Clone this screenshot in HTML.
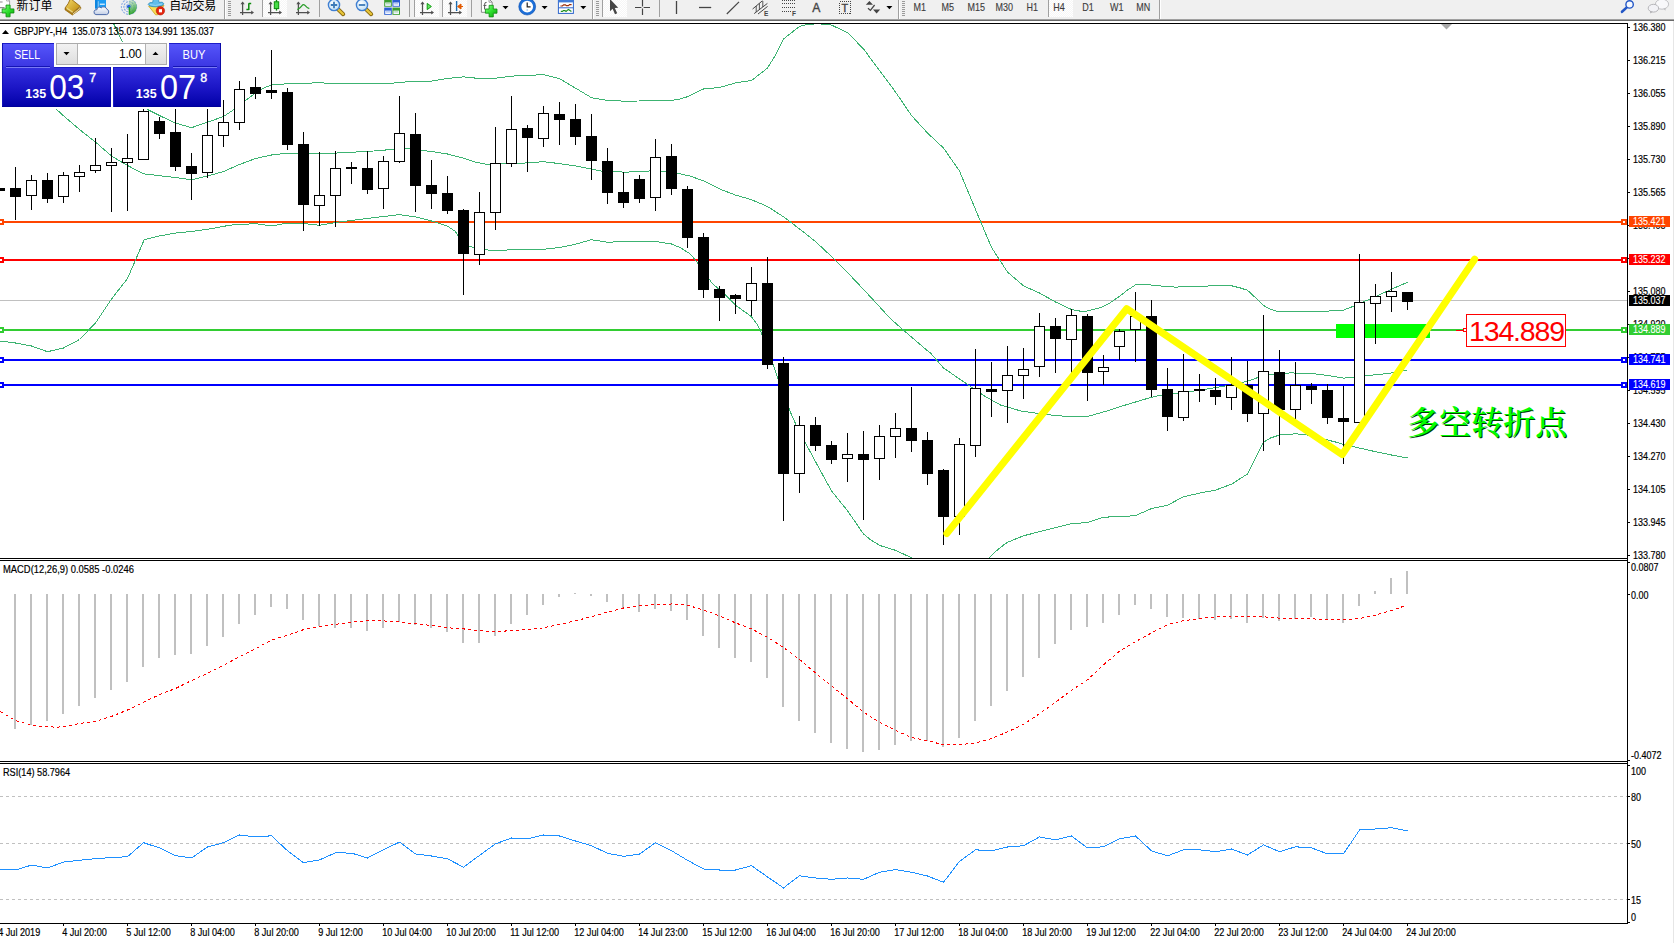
<!DOCTYPE html>
<html lang="zh"><head><meta charset="utf-8"><title>GBPJPY H4</title>
<style>
html,body{margin:0;padding:0;background:#fff}
body{width:1674px;height:943px;overflow:hidden;position:relative;font-family:"Liberation Sans","Noto Sans CJK SC",sans-serif}
svg{position:absolute;left:0;top:0;display:block}
text{font-family:"Liberation Sans","Noto Sans CJK SC",sans-serif;font-size:9.5px;fill:#000;letter-spacing:-0.25px}
.ax{font-size:9.5px}
.lb{fill:#fff}
.tb{font-size:9.5px;fill:#3c3c3c;letter-spacing:-0.2px}
.cn{font-size:12px;letter-spacing:0;fill:#000}
</style></head><body>
<svg width="1674" height="943" viewBox="0 0 1674 943">
<defs>
<linearGradient id="gTab" x1="0" y1="0" x2="0" y2="1"><stop offset="0" stop-color="#5656fb"/><stop offset="1" stop-color="#3b36e2"/></linearGradient>
<linearGradient id="gBox" x1="0" y1="0" x2="0" y2="1"><stop offset="0" stop-color="#3430e0"/><stop offset="0.55" stop-color="#1a14c4"/><stop offset="1" stop-color="#0000a6"/></linearGradient>
<linearGradient id="gBtn" x1="0" y1="0" x2="0" y2="1"><stop offset="0" stop-color="#f2f2f2"/><stop offset="1" stop-color="#dedede"/></linearGradient>
<radialGradient id="gLens" cx="0.4" cy="0.35" r="0.7"><stop offset="0" stop-color="#ffffff"/><stop offset="1" stop-color="#b9dcf5"/></radialGradient>
<linearGradient id="gGold" x1="0" y1="0" x2="1" y2="1"><stop offset="0" stop-color="#f7dc6a"/><stop offset="1" stop-color="#b9860b"/></linearGradient>
<linearGradient id="gGreen" x1="0" y1="0" x2="1" y2="1"><stop offset="0" stop-color="#8aff8a"/><stop offset="0.5" stop-color="#2fe02f"/><stop offset="1" stop-color="#0da50d"/></linearGradient>
<linearGradient id="gCloud" x1="0" y1="0" x2="0" y2="1"><stop offset="0" stop-color="#ffffff"/><stop offset="1" stop-color="#c3cfe6"/></linearGradient>
<linearGradient id="gSweep" x1="0" y1="0" x2="0.3" y2="1"><stop offset="0" stop-color="#7cc47c" stop-opacity="0.15"/><stop offset="0.6" stop-color="#5ab85a" stop-opacity="0.7"/><stop offset="1" stop-color="#2ea02e" stop-opacity="1"/></linearGradient>
<pattern id="sel" width="2" height="2" patternUnits="userSpaceOnUse"><rect width="2" height="2" fill="#f6f6f6"/><rect width="1" height="1" fill="#ffffff"/><rect x="1" y="1" width="1" height="1" fill="#ffffff"/></pattern>
<clipPath id="cMain"><rect x="0" y="24" width="1627" height="534"/></clipPath>
</defs>
<rect x="0" y="0" width="1674" height="943" fill="#ffffff"/>
<g shape-rendering="crispEdges">
<rect x="0" y="300" width="1627" height="1" fill="#c0c0c0"/>
<rect x="0" y="221" width="1627" height="2" fill="#ff4500"/>
<rect x="-2" y="219" width="6" height="6" fill="#ff4500"/>
<rect x="0" y="221" width="2" height="2" fill="#ffffff"/>
<rect x="1621" y="219" width="6" height="6" fill="#ff4500"/>
<rect x="1623" y="221" width="2" height="2" fill="#ffffff"/>
<rect x="0" y="259" width="1627" height="2" fill="#ff0000"/>
<rect x="-2" y="257" width="6" height="6" fill="#ff0000"/>
<rect x="0" y="259" width="2" height="2" fill="#ffffff"/>
<rect x="1621" y="257" width="6" height="6" fill="#ff0000"/>
<rect x="1623" y="259" width="2" height="2" fill="#ffffff"/>
<rect x="0" y="329" width="1627" height="2" fill="#32cd32"/>
<rect x="-2" y="327" width="6" height="6" fill="#32cd32"/>
<rect x="0" y="329" width="2" height="2" fill="#ffffff"/>
<rect x="1621" y="327" width="6" height="6" fill="#32cd32"/>
<rect x="1623" y="329" width="2" height="2" fill="#ffffff"/>
<rect x="0" y="359" width="1627" height="2" fill="#0000ff"/>
<rect x="-2" y="357" width="6" height="6" fill="#0000ff"/>
<rect x="0" y="359" width="2" height="2" fill="#ffffff"/>
<rect x="1621" y="357" width="6" height="6" fill="#0000ff"/>
<rect x="1623" y="359" width="2" height="2" fill="#ffffff"/>
<rect x="0" y="384" width="1627" height="2" fill="#0000ff"/>
<rect x="-2" y="382" width="6" height="6" fill="#0000ff"/>
<rect x="0" y="384" width="2" height="2" fill="#ffffff"/>
<rect x="1621" y="382" width="6" height="6" fill="#0000ff"/>
<rect x="1623" y="384" width="2" height="2" fill="#ffffff"/>
<rect x="1336" y="324" width="94" height="14" fill="#00ff00"/>
</g>
<g clip-path="url(#cMain)" fill="none" stroke="#3cb371" stroke-width="1" shape-rendering="crispEdges">
<polyline points="113.5,23.5 118.0,32.5 122.5,42.0"/>
<polyline points="147.5,109.5 159.5,115.5 170.5,120.8 175.5,123.0 191.5,127.7 207.5,122.2 223.5,116.5 232.5,110.5 239.5,105.0 250.5,96.8 258.5,90.5 265.5,87.2 271.5,85.0 290.5,83.5 320.5,82.8 340.5,84.0 367.5,83.7 390.5,83.3 407.5,81.8 431.5,81.1 447.5,78.5 463.5,76.9 479.5,78.5 495.5,78.2 511.5,76.1 527.5,75.4 543.5,74.7 559.5,78.7 575.5,88.1 591.5,97.7 607.5,100.5 623.5,101.1 639.5,101.0 655.5,100.7 671.5,100.5 680.5,98.9 687.5,96.7 703.5,89.0 719.5,87.5 735.5,82.9 751.5,80.5 767.5,68.1 775.5,55.0 783.5,39.0 799.5,26.4 808.5,24.1 820.5,23.9 831.5,25.1 847.5,32.6 863.5,48.9 879.5,70.5 895.5,92.0 911.5,115.5 927.5,133.0 943.5,148.0 959.5,171.0 975.5,209.5 991.5,247.5 1007.5,272.0 1023.5,285.8 1039.5,293.0 1055.5,302.0 1071.5,309.5 1080.5,311.2 1087.5,311.0 1100.5,307.7 1110.5,302.6 1119.5,296.3 1127.5,290.1 1135.5,284.9 1150.5,285.0 1160.5,286.0 1175.5,287.1 1190.5,286.5 1215.5,285.8 1232.5,286.0 1240.5,288.0 1247.5,290.3 1255.5,297.7 1263.5,305.5 1270.5,309.3 1279.5,311.9 1295.5,312.0 1320.5,311.5 1343.5,310.1 1351.5,307.0 1359.5,303.5 1370.5,298.8 1385.5,292.0 1395.5,287.5 1407.5,282.2"/>
<polyline points="56.5,109.4 63.5,115.8 79.5,129.5 95.5,142.1 111.5,156.0 127.5,165.5 143.5,173.8 159.5,175.7 175.5,177.5 191.5,179.8 207.5,176.0 223.5,171.5 239.5,164.5 255.5,158.5 271.5,155.0 287.5,153.2 303.5,153.1 319.5,153.9 335.5,153.1 351.5,152.2 367.5,151.5 383.5,150.2 399.5,148.7 410.5,149.0 431.5,151.5 447.5,154.0 463.5,158.2 475.5,162.2 487.5,164.4 500.5,164.0 511.5,163.5 527.5,162.9 543.5,161.7 559.5,163.6 575.5,165.9 591.5,169.1 600.5,171.0 623.5,172.1 639.5,171.8 655.5,170.5 671.5,172.5 680.5,173.9 690.5,176.2 703.5,180.9 719.5,188.9 735.5,195.1 751.5,199.7 767.5,206.5 783.5,216.8 799.5,228.9 815.5,241.5 831.5,256.5 847.5,272.5 863.5,289.4 879.5,306.7 890.5,318.7 900.5,327.5 915.5,340.5 925.5,349.1 930.5,353.0 943.5,367.9 959.5,379.0 970.5,386.5 985.5,396.7 1000.5,405.0 1020.5,410.9 1040.5,413.8 1055.5,415.5 1071.5,416.8 1087.5,416.5 1100.5,412.8 1110.5,409.9 1125.5,405.0 1150.5,397.5 1165.5,394.2 1180.5,392.8 1199.5,390.3 1215.5,387.5 1231.5,385.0 1247.5,381.3 1258.5,377.3 1270.5,374.5 1290.5,372.9 1311.5,373.5 1327.5,375.4 1343.5,378.1 1351.5,377.5 1370.5,375.3 1385.5,373.7 1395.5,372.4 1407.5,369.9"/>
<polyline points="-0.5,340.9 15.5,343.0 31.5,346.0 47.5,351.7 63.5,348.0 79.5,339.5 95.5,323.0 111.5,299.0 127.5,278.5 144.2,239.8 159.5,235.9 175.5,233.1 191.5,231.5 207.5,229.3 230.5,225.1 255.5,223.6 271.5,225.9 287.5,223.1 303.5,223.5 319.5,225.3 335.5,222.5 351.5,220.5 367.5,218.5 383.5,216.5 399.5,214.6 415.5,216.9 431.5,221.0 447.5,226.2 455.5,231.5 459.5,239.0 469.9,246.5 479.5,249.1 495.5,250.9 511.5,249.7 527.5,249.7 543.5,249.3 559.5,247.5 575.5,244.2 591.5,239.7 607.5,242.2 623.5,241.7 639.5,241.3 655.5,241.5 671.5,244.0 680.5,247.8 690.5,254.1 700.5,266.5 712.0,283.1 726.5,295.9 735.5,305.2 751.5,316.7 757.5,325.0 762.5,335.5 773.5,365.5 778.5,380.5 790.1,411.5 795.5,423.7 805.5,443.1 815.5,461.7 831.5,490.9 847.5,510.7 863.5,534.0 871.5,540.5 880.5,545.7 895.5,550.3 911.5,557.8 913.5,559.0"/>
<polyline points="988.0,559.0 991.5,555.5 995.5,551.5 1004.0,544.7 1007.5,542.3 1023.5,535.8 1039.5,531.7 1055.5,527.7 1071.5,523.7 1087.5,522.5 1103.5,517.1 1119.5,516.8 1135.5,515.6 1151.5,508.6 1167.5,505.2 1183.5,496.8 1199.5,493.1 1215.5,490.1 1231.5,484.2 1247.5,474.0 1255.5,458.2 1263.5,442.2 1270.5,438.0 1279.5,435.0 1295.5,433.8 1305.5,434.5 1320.5,438.2 1335.5,442.0 1343.5,444.5 1355.5,447.1 1375.5,451.7 1391.5,455.0 1407.5,458.0"/>
</g>
<g shape-rendering="crispEdges">
<rect x="-1" y="188" width="1" height="3" fill="#000"/>
<rect x="-6" y="188" width="11" height="3" fill="#000"/>
<rect x="15" y="167" width="1" height="53" fill="#000"/>
<rect x="10" y="188" width="11" height="9" fill="#000"/>
<rect x="31" y="175" width="1" height="35" fill="#000"/>
<rect x="26" y="180" width="11" height="16" fill="#000"/>
<rect x="27" y="181" width="9" height="14" fill="#fff"/>
<rect x="47" y="173" width="1" height="30" fill="#000"/>
<rect x="42" y="180" width="11" height="19" fill="#000"/>
<rect x="63" y="172" width="1" height="31" fill="#000"/>
<rect x="58" y="175" width="11" height="22" fill="#000"/>
<rect x="59" y="176" width="9" height="20" fill="#fff"/>
<rect x="79" y="165" width="1" height="27" fill="#000"/>
<rect x="74" y="172" width="11" height="5" fill="#000"/>
<rect x="75" y="173" width="9" height="3" fill="#fff"/>
<rect x="95" y="138" width="1" height="35" fill="#000"/>
<rect x="90" y="165" width="11" height="6" fill="#000"/>
<rect x="91" y="166" width="9" height="4" fill="#fff"/>
<rect x="111" y="148" width="1" height="64" fill="#000"/>
<rect x="106" y="162" width="11" height="4" fill="#000"/>
<rect x="107" y="163" width="9" height="2" fill="#fff"/>
<rect x="127" y="134" width="1" height="77" fill="#000"/>
<rect x="122" y="158" width="11" height="5" fill="#000"/>
<rect x="123" y="159" width="9" height="3" fill="#fff"/>
<rect x="143" y="109" width="1" height="51" fill="#000"/>
<rect x="138" y="111" width="11" height="49" fill="#000"/>
<rect x="139" y="112" width="9" height="47" fill="#fff"/>
<rect x="159" y="117" width="1" height="22" fill="#000"/>
<rect x="154" y="121" width="11" height="13" fill="#000"/>
<rect x="175" y="109" width="1" height="62" fill="#000"/>
<rect x="170" y="132" width="11" height="35" fill="#000"/>
<rect x="191" y="153" width="1" height="47" fill="#000"/>
<rect x="186" y="166" width="11" height="8" fill="#000"/>
<rect x="207" y="109" width="1" height="69" fill="#000"/>
<rect x="202" y="135" width="11" height="38" fill="#000"/>
<rect x="203" y="136" width="9" height="36" fill="#fff"/>
<rect x="223" y="100" width="1" height="47" fill="#000"/>
<rect x="218" y="122" width="11" height="14" fill="#000"/>
<rect x="219" y="123" width="9" height="12" fill="#fff"/>
<rect x="239" y="81" width="1" height="49" fill="#000"/>
<rect x="234" y="89" width="11" height="34" fill="#000"/>
<rect x="235" y="90" width="9" height="32" fill="#fff"/>
<rect x="255" y="77" width="1" height="22" fill="#000"/>
<rect x="250" y="87" width="11" height="7" fill="#000"/>
<rect x="271" y="50" width="1" height="49" fill="#000"/>
<rect x="266" y="90" width="11" height="3" fill="#000"/>
<rect x="287" y="88" width="1" height="62" fill="#000"/>
<rect x="282" y="92" width="11" height="53" fill="#000"/>
<rect x="303" y="132" width="1" height="99" fill="#000"/>
<rect x="298" y="144" width="11" height="61" fill="#000"/>
<rect x="319" y="152" width="1" height="74" fill="#000"/>
<rect x="314" y="195" width="11" height="11" fill="#000"/>
<rect x="315" y="196" width="9" height="9" fill="#fff"/>
<rect x="335" y="151" width="1" height="76" fill="#000"/>
<rect x="330" y="168" width="11" height="28" fill="#000"/>
<rect x="331" y="169" width="9" height="26" fill="#fff"/>
<rect x="351" y="162" width="1" height="22" fill="#000"/>
<rect x="346" y="167" width="11" height="2" fill="#000"/>
<rect x="367" y="151" width="1" height="43" fill="#000"/>
<rect x="362" y="168" width="11" height="22" fill="#000"/>
<rect x="383" y="156" width="1" height="53" fill="#000"/>
<rect x="378" y="161" width="11" height="28" fill="#000"/>
<rect x="379" y="162" width="9" height="26" fill="#fff"/>
<rect x="399" y="96" width="1" height="67" fill="#000"/>
<rect x="394" y="133" width="11" height="29" fill="#000"/>
<rect x="395" y="134" width="9" height="27" fill="#fff"/>
<rect x="415" y="113" width="1" height="99" fill="#000"/>
<rect x="410" y="134" width="11" height="52" fill="#000"/>
<rect x="431" y="160" width="1" height="49" fill="#000"/>
<rect x="426" y="185" width="11" height="9" fill="#000"/>
<rect x="447" y="176" width="1" height="38" fill="#000"/>
<rect x="442" y="193" width="11" height="18" fill="#000"/>
<rect x="463" y="209" width="1" height="86" fill="#000"/>
<rect x="458" y="210" width="11" height="44" fill="#000"/>
<rect x="479" y="192" width="1" height="73" fill="#000"/>
<rect x="474" y="212" width="11" height="43" fill="#000"/>
<rect x="475" y="213" width="9" height="41" fill="#fff"/>
<rect x="495" y="127" width="1" height="103" fill="#000"/>
<rect x="490" y="163" width="11" height="50" fill="#000"/>
<rect x="491" y="164" width="9" height="48" fill="#fff"/>
<rect x="511" y="96" width="1" height="71" fill="#000"/>
<rect x="506" y="129" width="11" height="35" fill="#000"/>
<rect x="507" y="130" width="9" height="33" fill="#fff"/>
<rect x="527" y="125" width="1" height="47" fill="#000"/>
<rect x="522" y="128" width="11" height="10" fill="#000"/>
<rect x="543" y="106" width="1" height="41" fill="#000"/>
<rect x="538" y="113" width="11" height="26" fill="#000"/>
<rect x="539" y="114" width="9" height="24" fill="#fff"/>
<rect x="559" y="102" width="1" height="43" fill="#000"/>
<rect x="554" y="114" width="11" height="6" fill="#000"/>
<rect x="575" y="104" width="1" height="41" fill="#000"/>
<rect x="570" y="119" width="11" height="18" fill="#000"/>
<rect x="591" y="114" width="1" height="66" fill="#000"/>
<rect x="586" y="136" width="11" height="25" fill="#000"/>
<rect x="607" y="148" width="1" height="56" fill="#000"/>
<rect x="602" y="161" width="11" height="32" fill="#000"/>
<rect x="623" y="172" width="1" height="36" fill="#000"/>
<rect x="618" y="192" width="11" height="11" fill="#000"/>
<rect x="639" y="175" width="1" height="28" fill="#000"/>
<rect x="634" y="179" width="11" height="20" fill="#000"/>
<rect x="655" y="139" width="1" height="72" fill="#000"/>
<rect x="650" y="157" width="11" height="41" fill="#000"/>
<rect x="651" y="158" width="9" height="39" fill="#fff"/>
<rect x="671" y="144" width="1" height="51" fill="#000"/>
<rect x="666" y="156" width="11" height="33" fill="#000"/>
<rect x="687" y="186" width="1" height="62" fill="#000"/>
<rect x="682" y="189" width="11" height="49" fill="#000"/>
<rect x="703" y="233" width="1" height="65" fill="#000"/>
<rect x="698" y="237" width="11" height="53" fill="#000"/>
<rect x="719" y="286" width="1" height="35" fill="#000"/>
<rect x="714" y="289" width="11" height="9" fill="#000"/>
<rect x="735" y="294" width="1" height="20" fill="#000"/>
<rect x="730" y="295" width="11" height="4" fill="#000"/>
<rect x="751" y="267" width="1" height="49" fill="#000"/>
<rect x="746" y="283" width="11" height="18" fill="#000"/>
<rect x="747" y="284" width="9" height="16" fill="#fff"/>
<rect x="767" y="257" width="1" height="112" fill="#000"/>
<rect x="762" y="283" width="11" height="82" fill="#000"/>
<rect x="783" y="357" width="1" height="164" fill="#000"/>
<rect x="778" y="363" width="11" height="111" fill="#000"/>
<rect x="799" y="416" width="1" height="77" fill="#000"/>
<rect x="794" y="425" width="11" height="49" fill="#000"/>
<rect x="795" y="426" width="9" height="47" fill="#fff"/>
<rect x="815" y="417" width="1" height="34" fill="#000"/>
<rect x="810" y="425" width="11" height="21" fill="#000"/>
<rect x="831" y="441" width="1" height="23" fill="#000"/>
<rect x="826" y="445" width="11" height="15" fill="#000"/>
<rect x="847" y="433" width="1" height="49" fill="#000"/>
<rect x="842" y="454" width="11" height="5" fill="#000"/>
<rect x="843" y="455" width="9" height="3" fill="#fff"/>
<rect x="863" y="431" width="1" height="89" fill="#000"/>
<rect x="858" y="454" width="11" height="6" fill="#000"/>
<rect x="879" y="425" width="1" height="55" fill="#000"/>
<rect x="874" y="436" width="11" height="23" fill="#000"/>
<rect x="875" y="437" width="9" height="21" fill="#fff"/>
<rect x="895" y="413" width="1" height="45" fill="#000"/>
<rect x="890" y="428" width="11" height="9" fill="#000"/>
<rect x="891" y="429" width="9" height="7" fill="#fff"/>
<rect x="911" y="387" width="1" height="65" fill="#000"/>
<rect x="906" y="428" width="11" height="13" fill="#000"/>
<rect x="927" y="432" width="1" height="53" fill="#000"/>
<rect x="922" y="440" width="11" height="34" fill="#000"/>
<rect x="943" y="469" width="1" height="76" fill="#000"/>
<rect x="938" y="470" width="11" height="47" fill="#000"/>
<rect x="959" y="438" width="1" height="97" fill="#000"/>
<rect x="954" y="444" width="11" height="73" fill="#000"/>
<rect x="955" y="445" width="9" height="71" fill="#fff"/>
<rect x="975" y="349" width="1" height="108" fill="#000"/>
<rect x="970" y="388" width="11" height="58" fill="#000"/>
<rect x="971" y="389" width="9" height="56" fill="#fff"/>
<rect x="991" y="362" width="1" height="55" fill="#000"/>
<rect x="986" y="389" width="11" height="3" fill="#000"/>
<rect x="1007" y="346" width="1" height="77" fill="#000"/>
<rect x="1002" y="375" width="11" height="16" fill="#000"/>
<rect x="1003" y="376" width="9" height="14" fill="#fff"/>
<rect x="1023" y="348" width="1" height="51" fill="#000"/>
<rect x="1018" y="369" width="11" height="7" fill="#000"/>
<rect x="1019" y="370" width="9" height="5" fill="#fff"/>
<rect x="1039" y="313" width="1" height="64" fill="#000"/>
<rect x="1034" y="326" width="11" height="41" fill="#000"/>
<rect x="1035" y="327" width="9" height="39" fill="#fff"/>
<rect x="1055" y="318" width="1" height="55" fill="#000"/>
<rect x="1050" y="326" width="11" height="13" fill="#000"/>
<rect x="1071" y="309" width="1" height="64" fill="#000"/>
<rect x="1066" y="315" width="11" height="25" fill="#000"/>
<rect x="1067" y="316" width="9" height="23" fill="#fff"/>
<rect x="1087" y="314" width="1" height="87" fill="#000"/>
<rect x="1082" y="316" width="11" height="57" fill="#000"/>
<rect x="1103" y="355" width="1" height="30" fill="#000"/>
<rect x="1098" y="367" width="11" height="5" fill="#000"/>
<rect x="1099" y="368" width="9" height="3" fill="#fff"/>
<rect x="1119" y="329" width="1" height="31" fill="#000"/>
<rect x="1114" y="331" width="11" height="16" fill="#000"/>
<rect x="1115" y="332" width="9" height="14" fill="#fff"/>
<rect x="1135" y="292" width="1" height="70" fill="#000"/>
<rect x="1130" y="316" width="11" height="14" fill="#000"/>
<rect x="1131" y="317" width="9" height="12" fill="#fff"/>
<rect x="1151" y="300" width="1" height="97" fill="#000"/>
<rect x="1146" y="316" width="11" height="74" fill="#000"/>
<rect x="1167" y="368" width="1" height="63" fill="#000"/>
<rect x="1162" y="389" width="11" height="28" fill="#000"/>
<rect x="1183" y="354" width="1" height="67" fill="#000"/>
<rect x="1178" y="391" width="11" height="27" fill="#000"/>
<rect x="1179" y="392" width="9" height="25" fill="#fff"/>
<rect x="1199" y="374" width="1" height="28" fill="#000"/>
<rect x="1194" y="389" width="11" height="2" fill="#000"/>
<rect x="1215" y="378" width="1" height="27" fill="#000"/>
<rect x="1210" y="390" width="11" height="7" fill="#000"/>
<rect x="1231" y="357" width="1" height="53" fill="#000"/>
<rect x="1226" y="385" width="11" height="13" fill="#000"/>
<rect x="1227" y="386" width="9" height="11" fill="#fff"/>
<rect x="1247" y="361" width="1" height="61" fill="#000"/>
<rect x="1242" y="385" width="11" height="29" fill="#000"/>
<rect x="1263" y="315" width="1" height="136" fill="#000"/>
<rect x="1258" y="371" width="11" height="43" fill="#000"/>
<rect x="1259" y="372" width="9" height="41" fill="#fff"/>
<rect x="1279" y="350" width="1" height="95" fill="#000"/>
<rect x="1274" y="372" width="11" height="38" fill="#000"/>
<rect x="1295" y="362" width="1" height="58" fill="#000"/>
<rect x="1290" y="385" width="11" height="25" fill="#000"/>
<rect x="1291" y="386" width="9" height="23" fill="#fff"/>
<rect x="1311" y="383" width="1" height="21" fill="#000"/>
<rect x="1306" y="386" width="11" height="4" fill="#000"/>
<rect x="1327" y="384" width="1" height="40" fill="#000"/>
<rect x="1322" y="390" width="11" height="28" fill="#000"/>
<rect x="1343" y="386" width="1" height="78" fill="#000"/>
<rect x="1338" y="418" width="11" height="4" fill="#000"/>
<rect x="1359" y="254" width="1" height="169" fill="#000"/>
<rect x="1354" y="302" width="11" height="121" fill="#000"/>
<rect x="1355" y="303" width="9" height="119" fill="#fff"/>
<rect x="1375" y="284" width="1" height="60" fill="#000"/>
<rect x="1370" y="296" width="11" height="8" fill="#000"/>
<rect x="1371" y="297" width="9" height="6" fill="#fff"/>
<rect x="1391" y="272" width="1" height="40" fill="#000"/>
<rect x="1386" y="291" width="11" height="6" fill="#000"/>
<rect x="1387" y="292" width="9" height="4" fill="#fff"/>
<rect x="1407" y="292" width="1" height="18" fill="#000"/>
<rect x="1402" y="292" width="11" height="10" fill="#000"/>
</g>
<polyline points="946.9,533.4 1126.7,308.7 1342.2,454.6 1474.6,259.3" fill="none" stroke="#ffff00" stroke-width="7.1" stroke-linecap="round" stroke-linejoin="round"/>
<path d="M1441,24 L1452,24 L1446.5,29.5 Z" fill="#a9a9a9"/>
<g shape-rendering="crispEdges">
<rect x="1456" y="330" width="8" height="1" fill="#ff0000"/>
<rect x="1463" y="328" width="4" height="4" fill="#ff0000"/>
<rect x="1464" y="329" width="2" height="2" fill="#ffffff"/>
<rect x="1466.5" y="314.5" width="99" height="32" fill="#ffffff" stroke="#ff0000" stroke-width="1"/>
</g>
<text x="1469" y="341.3" style="font-size:28.5px;fill:#ff0000;letter-spacing:-1.15px">134.889</text>
<text x="1408.2" y="435.3" style="font-family:'Liberation Serif','Noto Serif CJK SC',serif;font-weight:600;font-size:32px;letter-spacing:0;fill:#003c00">多空转折点</text>
<text x="1407.2" y="434.3" style="font-family:'Liberation Serif','Noto Serif CJK SC',serif;font-weight:600;font-size:32px;letter-spacing:0;fill:#00ff00">多空转折点</text>
<path d="M2,34 L9,34 L5.5,30 Z" fill="#000"/>
<text transform="translate(14 34.8) scale(0.928 1)" style="font-size:10px;fill:#000;letter-spacing:0;stroke:#000;stroke-width:0.18px">GBPJPY-,H4&#160;&#160;135.073 135.073 134.991 135.037</text>
<g shape-rendering="crispEdges">
<rect x="54" y="43" width="115" height="24" fill="#ffffff"/>
<rect x="2" y="43" width="52" height="24" fill="url(#gTab)"/>
<rect x="169" y="43" width="52" height="24" fill="url(#gTab)"/>
<rect x="2" y="67" width="109" height="40" fill="url(#gBox)"/>
<rect x="113" y="67" width="108" height="40" fill="url(#gBox)"/>
<rect x="2" y="43" width="52" height="1" fill="#1c1cc8"/>
<rect x="2" y="43" width="1" height="64" fill="#1212b8"/>
<rect x="169" y="43" width="52" height="1" fill="#1c1cc8"/>
<rect x="220" y="43" width="1" height="64" fill="#0a0aa8"/>
<rect x="54" y="67" width="57" height="1" fill="#1a1ac4"/>
<rect x="113" y="67" width="56" height="1" fill="#1a1ac4"/>
<rect x="2" y="106" width="109" height="1" fill="#00009a"/>
<rect x="113" y="106" width="108" height="1" fill="#00009a"/>
<rect x="110" y="67" width="1" height="40" fill="#0a0aa8"/>
<rect x="113" y="67" width="1" height="40" fill="#1a1ac4"/>
<rect x="6" y="66" width="44" height="1" fill="#1414b4"/>
<rect x="6" y="67" width="44" height="1" fill="#7a7af4"/>
<rect x="173" y="66" width="44" height="1" fill="#1414b4"/>
<rect x="173" y="67" width="44" height="1" fill="#7a7af4"/>
<rect x="56" y="43" width="111" height="22" fill="#ababab"/>
<rect x="57" y="44" width="109" height="20" fill="#ffffff"/>
<rect x="57" y="44" width="20" height="20" fill="url(#gBtn)"/>
<rect x="146" y="44" width="20" height="20" fill="url(#gBtn)"/>
<rect x="77" y="44" width="1" height="20" fill="#b4b4b4"/>
<rect x="145" y="44" width="1" height="20" fill="#b4b4b4"/>
</g>
<path d="M63.5,52 L69.5,52 L66.5,55.3 Z" fill="#000"/>
<path d="M152.5,55 L158.5,55 L155.5,51.7 Z" fill="#000"/>
<text x="141.5" y="57.6" text-anchor="end" style="font-size:12px;letter-spacing:-0.2px">1.00</text>
<text x="14.3" y="58.8" textLength="25.8" lengthAdjust="spacingAndGlyphs" class="lb" style="font-size:12.5px;letter-spacing:0">SELL</text>
<text x="182.5" y="58.8" textLength="23" lengthAdjust="spacingAndGlyphs" class="lb" style="font-size:12.5px;letter-spacing:0">BUY</text>
<text x="25.3" y="98" textLength="20.8" lengthAdjust="spacingAndGlyphs" class="lb" style="font-size:12px;font-weight:700;letter-spacing:0">135</text>
<text x="49.2" y="98.6" textLength="35.2" lengthAdjust="spacingAndGlyphs" class="lb" style="font-size:34.5px;letter-spacing:0">03</text>
<text x="89.2" y="82" class="lb" style="font-size:12.5px;letter-spacing:0;stroke:#fff;stroke-width:0.4px">7</text>
<text x="135.8" y="98" textLength="20.8" lengthAdjust="spacingAndGlyphs" class="lb" style="font-size:12px;font-weight:700;letter-spacing:0">135</text>
<text x="160" y="98.6" textLength="36" lengthAdjust="spacingAndGlyphs" class="lb" style="font-size:34.5px;letter-spacing:0">07</text>
<text x="200.2" y="82" class="lb" style="font-size:12.5px;letter-spacing:0;stroke:#fff;stroke-width:0.4px">8</text>
<g shape-rendering="crispEdges">
<rect x="14" y="594" width="2" height="135" fill="#c0c0c0"/>
<rect x="30" y="594" width="2" height="131" fill="#c0c0c0"/>
<rect x="46" y="594" width="2" height="127" fill="#c0c0c0"/>
<rect x="62" y="594" width="2" height="120" fill="#c0c0c0"/>
<rect x="78" y="594" width="2" height="112" fill="#c0c0c0"/>
<rect x="94" y="594" width="2" height="104" fill="#c0c0c0"/>
<rect x="110" y="594" width="2" height="96" fill="#c0c0c0"/>
<rect x="126" y="594" width="2" height="88" fill="#c0c0c0"/>
<rect x="142" y="594" width="2" height="73" fill="#c0c0c0"/>
<rect x="158" y="594" width="2" height="64" fill="#c0c0c0"/>
<rect x="174" y="594" width="2" height="61" fill="#c0c0c0"/>
<rect x="190" y="594" width="2" height="60" fill="#c0c0c0"/>
<rect x="206" y="594" width="2" height="52" fill="#c0c0c0"/>
<rect x="222" y="594" width="2" height="43" fill="#c0c0c0"/>
<rect x="238" y="594" width="2" height="30" fill="#c0c0c0"/>
<rect x="254" y="594" width="2" height="21" fill="#c0c0c0"/>
<rect x="270" y="594" width="2" height="13" fill="#c0c0c0"/>
<rect x="286" y="594" width="2" height="15" fill="#c0c0c0"/>
<rect x="302" y="594" width="2" height="26" fill="#c0c0c0"/>
<rect x="318" y="594" width="2" height="32" fill="#c0c0c0"/>
<rect x="334" y="594" width="2" height="34" fill="#c0c0c0"/>
<rect x="350" y="594" width="2" height="34" fill="#c0c0c0"/>
<rect x="366" y="594" width="2" height="37" fill="#c0c0c0"/>
<rect x="382" y="594" width="2" height="34" fill="#c0c0c0"/>
<rect x="398" y="594" width="2" height="28" fill="#c0c0c0"/>
<rect x="414" y="594" width="2" height="31" fill="#c0c0c0"/>
<rect x="430" y="594" width="2" height="34" fill="#c0c0c0"/>
<rect x="446" y="594" width="2" height="38" fill="#c0c0c0"/>
<rect x="462" y="594" width="2" height="49" fill="#c0c0c0"/>
<rect x="478" y="594" width="2" height="49" fill="#c0c0c0"/>
<rect x="494" y="594" width="2" height="42" fill="#c0c0c0"/>
<rect x="510" y="594" width="2" height="30" fill="#c0c0c0"/>
<rect x="526" y="594" width="2" height="21" fill="#c0c0c0"/>
<rect x="542" y="594" width="2" height="11" fill="#c0c0c0"/>
<rect x="558" y="594" width="2" height="3" fill="#c0c0c0"/>
<rect x="574" y="593" width="2" height="1" fill="#c0c0c0"/>
<rect x="590" y="594" width="2" height="2" fill="#c0c0c0"/>
<rect x="606" y="594" width="2" height="8" fill="#c0c0c0"/>
<rect x="622" y="594" width="2" height="14" fill="#c0c0c0"/>
<rect x="638" y="594" width="2" height="18" fill="#c0c0c0"/>
<rect x="654" y="594" width="2" height="15" fill="#c0c0c0"/>
<rect x="670" y="594" width="2" height="17" fill="#c0c0c0"/>
<rect x="686" y="594" width="2" height="26" fill="#c0c0c0"/>
<rect x="702" y="594" width="2" height="42" fill="#c0c0c0"/>
<rect x="718" y="594" width="2" height="54" fill="#c0c0c0"/>
<rect x="734" y="594" width="2" height="64" fill="#c0c0c0"/>
<rect x="750" y="594" width="2" height="68" fill="#c0c0c0"/>
<rect x="766" y="594" width="2" height="84" fill="#c0c0c0"/>
<rect x="782" y="594" width="2" height="113" fill="#c0c0c0"/>
<rect x="798" y="594" width="2" height="127" fill="#c0c0c0"/>
<rect x="814" y="594" width="2" height="139" fill="#c0c0c0"/>
<rect x="830" y="594" width="2" height="149" fill="#c0c0c0"/>
<rect x="846" y="594" width="2" height="155" fill="#c0c0c0"/>
<rect x="862" y="594" width="2" height="158" fill="#c0c0c0"/>
<rect x="878" y="594" width="2" height="156" fill="#c0c0c0"/>
<rect x="894" y="594" width="2" height="151" fill="#c0c0c0"/>
<rect x="910" y="594" width="2" height="147" fill="#c0c0c0"/>
<rect x="926" y="594" width="2" height="147" fill="#c0c0c0"/>
<rect x="942" y="594" width="2" height="153" fill="#c0c0c0"/>
<rect x="958" y="594" width="2" height="144" fill="#c0c0c0"/>
<rect x="974" y="594" width="2" height="127" fill="#c0c0c0"/>
<rect x="990" y="594" width="2" height="112" fill="#c0c0c0"/>
<rect x="1006" y="594" width="2" height="97" fill="#c0c0c0"/>
<rect x="1022" y="594" width="2" height="83" fill="#c0c0c0"/>
<rect x="1038" y="594" width="2" height="64" fill="#c0c0c0"/>
<rect x="1054" y="594" width="2" height="50" fill="#c0c0c0"/>
<rect x="1070" y="594" width="2" height="36" fill="#c0c0c0"/>
<rect x="1086" y="594" width="2" height="33" fill="#c0c0c0"/>
<rect x="1102" y="594" width="2" height="29" fill="#c0c0c0"/>
<rect x="1118" y="594" width="2" height="21" fill="#c0c0c0"/>
<rect x="1134" y="594" width="2" height="11" fill="#c0c0c0"/>
<rect x="1150" y="594" width="2" height="15" fill="#c0c0c0"/>
<rect x="1166" y="594" width="2" height="23" fill="#c0c0c0"/>
<rect x="1182" y="594" width="2" height="24" fill="#c0c0c0"/>
<rect x="1198" y="594" width="2" height="25" fill="#c0c0c0"/>
<rect x="1214" y="594" width="2" height="26" fill="#c0c0c0"/>
<rect x="1230" y="594" width="2" height="25" fill="#c0c0c0"/>
<rect x="1246" y="594" width="2" height="29" fill="#c0c0c0"/>
<rect x="1262" y="594" width="2" height="24" fill="#c0c0c0"/>
<rect x="1278" y="594" width="2" height="27" fill="#c0c0c0"/>
<rect x="1294" y="594" width="2" height="25" fill="#c0c0c0"/>
<rect x="1310" y="594" width="2" height="23" fill="#c0c0c0"/>
<rect x="1326" y="594" width="2" height="26" fill="#c0c0c0"/>
<rect x="1342" y="594" width="2" height="29" fill="#c0c0c0"/>
<rect x="1358" y="594" width="2" height="12" fill="#c0c0c0"/>
<rect x="1374" y="591" width="2" height="3" fill="#c0c0c0"/>
<rect x="1390" y="578" width="2" height="16" fill="#c0c0c0"/>
<rect x="1406" y="571" width="2" height="23" fill="#c0c0c0"/>
</g>
<polyline points="0.5,711.5 15.5,720.7 31.5,725.0 40.5,726.2 55.5,727.2 63.5,726.8 79.5,723.5 95.5,721.4 111.5,716.4 127.5,710.0 143.5,702.4 159.5,694.5 175.5,688.5 191.5,680.5 207.5,673.4 223.5,665.2 239.5,656.8 255.5,648.7 271.5,640.1 287.5,635.1 303.5,629.7 319.5,626.7 335.5,624.4 351.5,622.1 367.5,620.9 383.5,620.9 399.5,622.0 415.5,623.9 431.5,625.4 447.5,627.8 463.5,628.9 479.5,630.6 495.5,631.7 511.5,630.6 527.5,629.7 543.5,627.8 559.5,624.6 575.5,620.7 591.5,616.8 607.5,612.1 623.5,608.0 639.5,605.9 655.5,604.2 671.5,604.0 687.5,605.2 703.5,610.0 719.5,615.8 735.5,622.9 751.5,628.9 767.5,637.3 783.5,647.6 799.5,659.4 815.5,673.0 831.5,685.9 847.5,698.8 863.5,712.1 879.5,722.2 895.5,730.4 911.5,737.5 927.5,740.7 943.5,744.8 959.5,744.8 975.5,742.9 991.5,738.6 1007.5,731.9 1023.5,724.4 1039.5,713.6 1055.5,702.4 1071.5,690.2 1087.5,679.9 1103.5,664.8 1119.5,651.3 1135.5,641.6 1151.5,633.0 1167.5,624.6 1183.5,620.7 1199.5,618.6 1215.5,616.8 1231.5,616.0 1247.5,616.0 1263.5,616.8 1279.5,618.1 1295.5,618.8 1311.5,618.8 1327.5,619.8 1343.5,619.8 1359.5,618.5 1375.5,615.1 1391.5,610.5 1406.5,605.3" fill="none" stroke="#ff0000" stroke-width="1" stroke-dasharray="3 3" shape-rendering="crispEdges"/>
<text transform="translate(3 573.3) scale(0.94 1)" style="font-size:10px;fill:#000;letter-spacing:0;stroke:#000;stroke-width:0.18px">MACD(12,26,9) 0.0585 -0.0246</text>
<g shape-rendering="crispEdges">
<line x1="0" y1="796.5" x2="1627" y2="796.5" stroke="#c0c0c0" stroke-width="1" stroke-dasharray="3 3"/>
<line x1="0" y1="843.5" x2="1627" y2="843.5" stroke="#c0c0c0" stroke-width="1" stroke-dasharray="3 3"/>
<line x1="0" y1="899.5" x2="1627" y2="899.5" stroke="#c0c0c0" stroke-width="1" stroke-dasharray="3 3"/>
</g>
<polyline points="-0.5,869.0 15.5,870.0 31.5,865.1 47.5,867.9 63.5,862.1 79.5,860.3 95.5,858.6 111.5,857.6 127.5,856.7 143.5,842.7 159.5,847.9 175.5,855.6 191.5,858.0 207.5,847.0 223.5,842.7 239.5,835.0 255.5,836.9 271.5,835.8 287.5,850.7 303.5,862.7 319.5,859.9 335.5,852.8 351.5,853.1 367.5,858.0 383.5,849.6 399.5,842.1 415.5,853.9 431.5,856.0 447.5,858.8 463.5,867.2 479.5,855.4 495.5,843.8 511.5,838.0 527.5,838.8 543.5,835.0 559.5,836.0 575.5,841.0 591.5,845.7 607.5,853.3 623.5,856.3 639.5,854.1 655.5,842.7 671.5,850.7 687.5,860.3 703.5,869.0 719.5,870.0 735.5,870.0 751.5,865.7 767.5,876.9 783.5,887.9 799.5,875.8 815.5,878.0 831.5,879.3 847.5,878.0 863.5,879.3 879.5,872.2 895.5,869.6 911.5,872.2 927.5,876.0 943.5,882.3 959.5,861.4 975.5,849.8 991.5,850.9 1007.5,847.0 1023.5,845.7 1039.5,836.9 1055.5,839.9 1071.5,836.0 1087.5,847.9 1103.5,846.8 1119.5,838.8 1135.5,836.0 1151.5,850.9 1167.5,855.8 1183.5,849.8 1199.5,849.8 1215.5,851.7 1231.5,849.0 1247.5,855.0 1263.5,844.9 1279.5,851.7 1295.5,846.8 1311.5,847.9 1327.5,853.9 1343.5,853.9 1359.5,830.0 1375.5,829.0 1391.5,827.7 1407.5,830.9" fill="none" stroke="#1e90ff" stroke-width="1" shape-rendering="crispEdges"/>
<text transform="translate(3 776.2) scale(0.916 1)" style="font-size:10px;fill:#000;letter-spacing:0;stroke:#000;stroke-width:0.18px">RSI(14) 58.7964</text>
<g shape-rendering="crispEdges">
<rect x="1628" y="21" width="45" height="922" fill="#ffffff"/>
<rect x="0" y="23" width="1628" height="1" fill="#000"/>
<rect x="0" y="558" width="1628" height="1" fill="#000"/>
<rect x="0" y="559" width="1674" height="1" fill="#fff"/>
<rect x="0" y="560" width="1628" height="1" fill="#000"/>
<rect x="0" y="761" width="1628" height="1" fill="#000"/>
<rect x="0" y="762" width="1674" height="1" fill="#fff"/>
<rect x="0" y="763" width="1628" height="1" fill="#000"/>
<rect x="0" y="923" width="1628" height="1" fill="#000"/>
<rect x="1627" y="23" width="1" height="901" fill="#000"/>
<rect x="0" y="924" width="1674" height="19" fill="#ffffff"/>
<rect x="1673" y="21" width="1" height="922" fill="#e6e6e6"/>
<rect x="1628" y="27" width="2" height="1" fill="#000"/>
<rect x="1628" y="60" width="2" height="1" fill="#000"/>
<rect x="1628" y="93" width="2" height="1" fill="#000"/>
<rect x="1628" y="126" width="2" height="1" fill="#000"/>
<rect x="1628" y="159" width="2" height="1" fill="#000"/>
<rect x="1628" y="192" width="2" height="1" fill="#000"/>
<rect x="1628" y="225" width="2" height="1" fill="#000"/>
<rect x="1628" y="258" width="2" height="1" fill="#000"/>
<rect x="1628" y="291" width="2" height="1" fill="#000"/>
<rect x="1628" y="324" width="2" height="1" fill="#000"/>
<rect x="1628" y="357" width="2" height="1" fill="#000"/>
<rect x="1628" y="390" width="2" height="1" fill="#000"/>
<rect x="1628" y="423" width="2" height="1" fill="#000"/>
<rect x="1628" y="456" width="2" height="1" fill="#000"/>
<rect x="1628" y="489" width="2" height="1" fill="#000"/>
<rect x="1628" y="522" width="2" height="1" fill="#000"/>
<rect x="1628" y="555" width="2" height="1" fill="#000"/>
<rect x="1628" y="562" width="2" height="1" fill="#000"/>
<rect x="1628" y="594" width="2" height="1" fill="#000"/>
<rect x="1628" y="760" width="2" height="1" fill="#000"/>
<rect x="1628" y="765" width="2" height="1" fill="#000"/>
<rect x="1628" y="796" width="2" height="1" fill="#000"/>
<rect x="1628" y="843" width="2" height="1" fill="#000"/>
<rect x="1628" y="899" width="2" height="1" fill="#000"/>
<rect x="1628" y="922" width="2" height="1" fill="#000"/>
<rect x="63" y="924" width="1" height="2" fill="#000"/>
<rect x="127" y="924" width="1" height="2" fill="#000"/>
<rect x="191" y="924" width="1" height="2" fill="#000"/>
<rect x="255" y="924" width="1" height="2" fill="#000"/>
<rect x="319" y="924" width="1" height="2" fill="#000"/>
<rect x="383" y="924" width="1" height="2" fill="#000"/>
<rect x="447" y="924" width="1" height="2" fill="#000"/>
<rect x="511" y="924" width="1" height="2" fill="#000"/>
<rect x="575" y="924" width="1" height="2" fill="#000"/>
<rect x="639" y="924" width="1" height="2" fill="#000"/>
<rect x="703" y="924" width="1" height="2" fill="#000"/>
<rect x="767" y="924" width="1" height="2" fill="#000"/>
<rect x="831" y="924" width="1" height="2" fill="#000"/>
<rect x="895" y="924" width="1" height="2" fill="#000"/>
<rect x="959" y="924" width="1" height="2" fill="#000"/>
<rect x="1023" y="924" width="1" height="2" fill="#000"/>
<rect x="1087" y="924" width="1" height="2" fill="#000"/>
<rect x="1151" y="924" width="1" height="2" fill="#000"/>
<rect x="1215" y="924" width="1" height="2" fill="#000"/>
<rect x="1279" y="924" width="1" height="2" fill="#000"/>
<rect x="1343" y="924" width="1" height="2" fill="#000"/>
<rect x="1407" y="924" width="1" height="2" fill="#000"/>
</g>
<text transform="translate(1633 31) scale(0.9 1)" style="font-size:10px;fill:#000;letter-spacing:0;stroke:#000;stroke-width:0.18px">136.380</text>
<text transform="translate(1633 64) scale(0.9 1)" style="font-size:10px;fill:#000;letter-spacing:0;stroke:#000;stroke-width:0.18px">136.215</text>
<text transform="translate(1633 97) scale(0.9 1)" style="font-size:10px;fill:#000;letter-spacing:0;stroke:#000;stroke-width:0.18px">136.055</text>
<text transform="translate(1633 130) scale(0.9 1)" style="font-size:10px;fill:#000;letter-spacing:0;stroke:#000;stroke-width:0.18px">135.890</text>
<text transform="translate(1633 163) scale(0.9 1)" style="font-size:10px;fill:#000;letter-spacing:0;stroke:#000;stroke-width:0.18px">135.730</text>
<text transform="translate(1633 196) scale(0.9 1)" style="font-size:10px;fill:#000;letter-spacing:0;stroke:#000;stroke-width:0.18px">135.565</text>
<text transform="translate(1633 229) scale(0.9 1)" style="font-size:10px;fill:#000;letter-spacing:0;stroke:#000;stroke-width:0.18px">135.405</text>
<text transform="translate(1633 262) scale(0.9 1)" style="font-size:10px;fill:#000;letter-spacing:0;stroke:#000;stroke-width:0.18px">135.240</text>
<text transform="translate(1633 295) scale(0.9 1)" style="font-size:10px;fill:#000;letter-spacing:0;stroke:#000;stroke-width:0.18px">135.080</text>
<text transform="translate(1633 328) scale(0.9 1)" style="font-size:10px;fill:#000;letter-spacing:0;stroke:#000;stroke-width:0.18px">134.920</text>
<text transform="translate(1633 361) scale(0.9 1)" style="font-size:10px;fill:#000;letter-spacing:0;stroke:#000;stroke-width:0.18px">134.755</text>
<text transform="translate(1633 394) scale(0.9 1)" style="font-size:10px;fill:#000;letter-spacing:0;stroke:#000;stroke-width:0.18px">134.595</text>
<text transform="translate(1633 427) scale(0.9 1)" style="font-size:10px;fill:#000;letter-spacing:0;stroke:#000;stroke-width:0.18px">134.430</text>
<text transform="translate(1633 460) scale(0.9 1)" style="font-size:10px;fill:#000;letter-spacing:0;stroke:#000;stroke-width:0.18px">134.270</text>
<text transform="translate(1633 493) scale(0.9 1)" style="font-size:10px;fill:#000;letter-spacing:0;stroke:#000;stroke-width:0.18px">134.105</text>
<text transform="translate(1633 526) scale(0.9 1)" style="font-size:10px;fill:#000;letter-spacing:0;stroke:#000;stroke-width:0.18px">133.945</text>
<text transform="translate(1633 559) scale(0.9 1)" style="font-size:10px;fill:#000;letter-spacing:0;stroke:#000;stroke-width:0.18px">133.780</text>
<text transform="translate(1631 571.4) scale(0.9 1)" style="font-size:10px;fill:#000;letter-spacing:0;stroke:#000;stroke-width:0.18px">0.0807</text>
<text transform="translate(1631 598.5) scale(0.9 1)" style="font-size:10px;fill:#000;letter-spacing:0;stroke:#000;stroke-width:0.18px">0.00</text>
<text transform="translate(1631 758.8) scale(0.9 1)" style="font-size:10px;fill:#000;letter-spacing:0;stroke:#000;stroke-width:0.18px">-0.4072</text>
<text transform="translate(1631 774.7) scale(0.9 1)" style="font-size:10px;fill:#000;letter-spacing:0;stroke:#000;stroke-width:0.18px">100</text>
<text transform="translate(1631 800.5) scale(0.9 1)" style="font-size:10px;fill:#000;letter-spacing:0;stroke:#000;stroke-width:0.18px">80</text>
<text transform="translate(1631 847.5) scale(0.9 1)" style="font-size:10px;fill:#000;letter-spacing:0;stroke:#000;stroke-width:0.18px">50</text>
<text transform="translate(1631 903.5) scale(0.9 1)" style="font-size:10px;fill:#000;letter-spacing:0;stroke:#000;stroke-width:0.18px">15</text>
<text transform="translate(1631 920.5) scale(0.9 1)" style="font-size:10px;fill:#000;letter-spacing:0;stroke:#000;stroke-width:0.18px">0</text>
<g shape-rendering="crispEdges">
<rect x="1629" y="216" width="41" height="11" fill="#ff4500"/>
<rect x="1629" y="254" width="41" height="11" fill="#ff0000"/>
<rect x="1629" y="295" width="41" height="11" fill="#000000"/>
<rect x="1629" y="324" width="41" height="11" fill="#32cd32"/>
<rect x="1629" y="354" width="41" height="11" fill="#0000ff"/>
<rect x="1629" y="379" width="41" height="11" fill="#0000ff"/>
</g>
<text transform="translate(1633 225) scale(0.9 1)" style="font-size:10px;fill:#fff;letter-spacing:0;stroke:#fff;stroke-width:0.1px">135.421</text>
<text transform="translate(1633 263) scale(0.9 1)" style="font-size:10px;fill:#fff;letter-spacing:0;stroke:#fff;stroke-width:0.1px">135.232</text>
<text transform="translate(1633 304) scale(0.9 1)" style="font-size:10px;fill:#fff;letter-spacing:0;stroke:#fff;stroke-width:0.1px">135.037</text>
<text transform="translate(1633 333) scale(0.9 1)" style="font-size:10px;fill:#fff;letter-spacing:0;stroke:#fff;stroke-width:0.1px">134.889</text>
<text transform="translate(1633 363) scale(0.9 1)" style="font-size:10px;fill:#fff;letter-spacing:0;stroke:#fff;stroke-width:0.1px">134.741</text>
<text transform="translate(1633 388) scale(0.9 1)" style="font-size:10px;fill:#fff;letter-spacing:0;stroke:#fff;stroke-width:0.1px">134.619</text>
<text transform="translate(-1.8 936.2) scale(0.912 1)" style="font-size:10px;fill:#000;letter-spacing:0;stroke:#000;stroke-width:0.18px">4 Jul 2019</text>
<text transform="translate(62.2 936.2) scale(0.912 1)" style="font-size:10px;fill:#000;letter-spacing:0;stroke:#000;stroke-width:0.18px">4 Jul 20:00</text>
<text transform="translate(126.2 936.2) scale(0.912 1)" style="font-size:10px;fill:#000;letter-spacing:0;stroke:#000;stroke-width:0.18px">5 Jul 12:00</text>
<text transform="translate(190.2 936.2) scale(0.912 1)" style="font-size:10px;fill:#000;letter-spacing:0;stroke:#000;stroke-width:0.18px">8 Jul 04:00</text>
<text transform="translate(254.2 936.2) scale(0.912 1)" style="font-size:10px;fill:#000;letter-spacing:0;stroke:#000;stroke-width:0.18px">8 Jul 20:00</text>
<text transform="translate(318.2 936.2) scale(0.912 1)" style="font-size:10px;fill:#000;letter-spacing:0;stroke:#000;stroke-width:0.18px">9 Jul 12:00</text>
<text transform="translate(382.2 936.2) scale(0.912 1)" style="font-size:10px;fill:#000;letter-spacing:0;stroke:#000;stroke-width:0.18px">10 Jul 04:00</text>
<text transform="translate(446.2 936.2) scale(0.912 1)" style="font-size:10px;fill:#000;letter-spacing:0;stroke:#000;stroke-width:0.18px">10 Jul 20:00</text>
<text transform="translate(510.2 936.2) scale(0.912 1)" style="font-size:10px;fill:#000;letter-spacing:0;stroke:#000;stroke-width:0.18px">11 Jul 12:00</text>
<text transform="translate(574.2 936.2) scale(0.912 1)" style="font-size:10px;fill:#000;letter-spacing:0;stroke:#000;stroke-width:0.18px">12 Jul 04:00</text>
<text transform="translate(638.2 936.2) scale(0.912 1)" style="font-size:10px;fill:#000;letter-spacing:0;stroke:#000;stroke-width:0.18px">14 Jul 23:00</text>
<text transform="translate(702.2 936.2) scale(0.912 1)" style="font-size:10px;fill:#000;letter-spacing:0;stroke:#000;stroke-width:0.18px">15 Jul 12:00</text>
<text transform="translate(766.2 936.2) scale(0.912 1)" style="font-size:10px;fill:#000;letter-spacing:0;stroke:#000;stroke-width:0.18px">16 Jul 04:00</text>
<text transform="translate(830.2 936.2) scale(0.912 1)" style="font-size:10px;fill:#000;letter-spacing:0;stroke:#000;stroke-width:0.18px">16 Jul 20:00</text>
<text transform="translate(894.2 936.2) scale(0.912 1)" style="font-size:10px;fill:#000;letter-spacing:0;stroke:#000;stroke-width:0.18px">17 Jul 12:00</text>
<text transform="translate(958.2 936.2) scale(0.912 1)" style="font-size:10px;fill:#000;letter-spacing:0;stroke:#000;stroke-width:0.18px">18 Jul 04:00</text>
<text transform="translate(1022.2 936.2) scale(0.912 1)" style="font-size:10px;fill:#000;letter-spacing:0;stroke:#000;stroke-width:0.18px">18 Jul 20:00</text>
<text transform="translate(1086.2 936.2) scale(0.912 1)" style="font-size:10px;fill:#000;letter-spacing:0;stroke:#000;stroke-width:0.18px">19 Jul 12:00</text>
<text transform="translate(1150.2 936.2) scale(0.912 1)" style="font-size:10px;fill:#000;letter-spacing:0;stroke:#000;stroke-width:0.18px">22 Jul 04:00</text>
<text transform="translate(1214.2 936.2) scale(0.912 1)" style="font-size:10px;fill:#000;letter-spacing:0;stroke:#000;stroke-width:0.18px">22 Jul 20:00</text>
<text transform="translate(1278.2 936.2) scale(0.912 1)" style="font-size:10px;fill:#000;letter-spacing:0;stroke:#000;stroke-width:0.18px">23 Jul 12:00</text>
<text transform="translate(1342.2 936.2) scale(0.912 1)" style="font-size:10px;fill:#000;letter-spacing:0;stroke:#000;stroke-width:0.18px">24 Jul 04:00</text>
<text transform="translate(1406.2 936.2) scale(0.912 1)" style="font-size:10px;fill:#000;letter-spacing:0;stroke:#000;stroke-width:0.18px">24 Jul 20:00</text>
<g id="toolbar">
<g shape-rendering="crispEdges">
<rect x="0" y="0" width="1674" height="19" fill="#f0f0f0"/>
<rect x="0" y="19" width="1674" height="1" fill="#a0a0a0"/>
<rect x="0" y="20" width="1674" height="1" fill="#696969"/>
<rect x="0" y="21" width="1674" height="2" fill="#ffffff"/>
<rect x="1673" y="21" width="1" height="2" fill="#e6e6e6"/>
<rect x="263" y="0" width="24" height="17" fill="url(#sel)"/>
<rect x="415" y="0" width="24" height="17" fill="url(#sel)"/>
<rect x="443" y="0" width="24" height="17" fill="url(#sel)"/>
<rect x="603" y="0" width="24" height="17" fill="url(#sel)"/>
<rect x="1049" y="0" width="24" height="17" fill="url(#sel)"/>
<rect x="262" y="0" width="1" height="17" fill="#a0a0a0"/>
<rect x="319" y="0" width="1" height="17" fill="#a0a0a0"/>
<rect x="409" y="0" width="1" height="17" fill="#a0a0a0"/>
<rect x="414" y="0" width="1" height="17" fill="#a0a0a0"/>
<rect x="442" y="0" width="1" height="17" fill="#a0a0a0"/>
<rect x="471" y="0" width="1" height="17" fill="#a0a0a0"/>
<rect x="602" y="0" width="1" height="17" fill="#a0a0a0"/>
<rect x="659" y="0" width="1" height="17" fill="#a0a0a0"/>
<rect x="1048" y="0" width="1" height="17" fill="#a0a0a0"/>
<rect x="224" y="0" width="1" height="19" fill="#a0a0a0"/>
<rect x="225" y="0" width="1" height="19" fill="#ffffff"/>
<rect x="592" y="0" width="1" height="19" fill="#a0a0a0"/>
<rect x="593" y="0" width="1" height="19" fill="#ffffff"/>
<rect x="898" y="0" width="1" height="19" fill="#a0a0a0"/>
<rect x="899" y="0" width="1" height="19" fill="#ffffff"/>
<rect x="1159" y="0" width="1" height="19" fill="#a0a0a0"/>
<rect x="1160" y="0" width="1" height="19" fill="#ffffff"/>
<rect x="228" y="1" width="3" height="1" fill="#9a9a9a"/>
<rect x="228" y="3" width="3" height="1" fill="#9a9a9a"/>
<rect x="228" y="5" width="3" height="1" fill="#9a9a9a"/>
<rect x="228" y="7" width="3" height="1" fill="#9a9a9a"/>
<rect x="228" y="9" width="3" height="1" fill="#9a9a9a"/>
<rect x="228" y="11" width="3" height="1" fill="#9a9a9a"/>
<rect x="228" y="13" width="3" height="1" fill="#9a9a9a"/>
<rect x="228" y="15" width="3" height="1" fill="#9a9a9a"/>
<rect x="596" y="1" width="3" height="1" fill="#9a9a9a"/>
<rect x="596" y="3" width="3" height="1" fill="#9a9a9a"/>
<rect x="596" y="5" width="3" height="1" fill="#9a9a9a"/>
<rect x="596" y="7" width="3" height="1" fill="#9a9a9a"/>
<rect x="596" y="9" width="3" height="1" fill="#9a9a9a"/>
<rect x="596" y="11" width="3" height="1" fill="#9a9a9a"/>
<rect x="596" y="13" width="3" height="1" fill="#9a9a9a"/>
<rect x="596" y="15" width="3" height="1" fill="#9a9a9a"/>
<rect x="902" y="1" width="3" height="1" fill="#9a9a9a"/>
<rect x="902" y="3" width="3" height="1" fill="#9a9a9a"/>
<rect x="902" y="5" width="3" height="1" fill="#9a9a9a"/>
<rect x="902" y="7" width="3" height="1" fill="#9a9a9a"/>
<rect x="902" y="9" width="3" height="1" fill="#9a9a9a"/>
<rect x="902" y="11" width="3" height="1" fill="#9a9a9a"/>
<rect x="902" y="13" width="3" height="1" fill="#9a9a9a"/>
<rect x="902" y="15" width="3" height="1" fill="#9a9a9a"/>
</g>
<path d="M-2,-2 H6.6 L9.6,1 V12.6 H-2 Z" fill="#ffffff" stroke="#a0a0a0" stroke-width="1"/>
<path d="M6.6,-2 V1 H9.6" fill="none" stroke="#a0a0a0" stroke-width="0.8"/>
<path d="M-1,2 H2.6 M-1,7.6 H4.6" stroke="#8e8e8e" stroke-width="1.2"/>
<path d="M6.000000000000001,5.049999999999999 H10.100000000000001 V8.899999999999999 H13.950000000000001 V13.0 H10.100000000000001 V16.85 H6.000000000000001 V13.0 H2.1500000000000004 V8.899999999999999 H6.000000000000001 Z" fill="url(#gGreen)" stroke="#0c8a0c" stroke-width="0.8" stroke-linejoin="miter"/>
<text x="16.6" y="9.9" class="cn">新订单</text>
<path d="M65,8.2 L72.5,13.4 L80.6,7 L80.8,8.8 L72.4,15 L65,9.8 Z" fill="#b8860b" stroke="#8a5a00" stroke-width="0.7" stroke-linejoin="round"/>
<path d="M73,13.6 L80.4,7.8 L80.5,8.6 L73,14.4 Z" fill="#efe6b8"/>
<path d="M70.5,-1.5 L80.2,6.3 L72.6,12.8 L65.1,7.9 Q68.6,4 70.5,-1.5 Z" fill="url(#gGold)" stroke="#8a5a00" stroke-width="0.8" stroke-linejoin="round"/>
<path d="M66.6,8.4 L72.6,12.2" stroke="#fff0a0" stroke-width="1.4" opacity="0.7"/>
<path d="M95,-1 H106 V8.5 H95 Z" fill="#1c9cf4"/>
<path d="M95,-1 L98.2,1.2 V8.5 H95 Z" fill="#0e86e0"/>
<path d="M98.2,1.2 V8.5" stroke="#d6efff" stroke-width="0.7"/>
<path d="M99.8,4.2 H104.8" stroke="#ffffff" stroke-width="1.1"/>
<path d="M96,14.6 H106.6 A2.8,2.8 0 0 0 106.8,9.2 A3.3,3.3 0 0 0 101.2,7.9 A2.4,2.4 0 0 0 97,9.7 A2.5,2.5 0 0 0 96,14.6 Z" fill="url(#gCloud)" stroke="#4d6cab" stroke-width="1"/>
<circle cx="129" cy="6.8" r="7.6" fill="none" stroke="#8fb0e6" stroke-width="1.1" stroke-dasharray="2.2 1"/>
<circle cx="129" cy="6.8" r="5.1" fill="none" stroke="#7fa4e2" stroke-width="1.1" stroke-dasharray="2 0.9"/>
<circle cx="129" cy="6.8" r="2.9" fill="none" stroke="#9dbaea" stroke-width="0.9"/>
<path d="M129,6.8 L129,-1 A7.8,7.8 0 0 1 129,14.6 Z" fill="url(#gSweep)"/>
<circle cx="128.8" cy="6.6" r="1.9" fill="#2b66d4"/>
<path d="M129.4,7 V14.7" stroke="#21a321" stroke-width="1.4"/>
<path d="M148.6,6 L164,5.4 L157.6,14.8 H155.6 Z" fill="#f8de55" stroke="#c9a11c" stroke-width="0.8" stroke-linejoin="round"/>
<path d="M148.2,4.4 Q149,1.8 152.6,2.6 Q153.2,-2 155.8,-2 Q158.6,-2 159,2.4 Q163,1.4 163.8,3.6 Q163.4,6.4 156,6.8 Q149.4,6.8 148.2,4.4 Z" fill="#62bdea" stroke="#2d8dbd" stroke-width="0.8"/>
<path d="M150,4.6 Q155,6.6 162,4" stroke="#9fdcf8" stroke-width="0.8" fill="none"/>
<circle cx="160.4" cy="10.75" r="4.2" fill="#e4260f" stroke="#b31505" stroke-width="0.6"/>
<rect x="158.9" y="9.15" width="3.1" height="3.2" fill="#ffffff"/>
<text x="169.2" y="9.9" class="cn" textLength="47" lengthAdjust="spacing">自动交易</text>
<path d="M242.6,2.5 V15 M240,12.5 H253" stroke="#505050" stroke-width="1.25" fill="none"/><path d="M240.5,4.2 L242.6,1.5 L244.7,4.2 Z" fill="#505050"/><path d="M251.2,10.4 L254,12.5 L251.2,14.6 Z" fill="#505050"/>
<path d="M248.8,3.2 V10 M248.8,3.6 H251.2 M246.4,9.4 H248.8" stroke="#0d8c0d" stroke-width="1.5" fill="none"/>
<path d="M270.6,2.5 V15 M268,12.5 H281" stroke="#505050" stroke-width="1.25" fill="none"/><path d="M268.5,4.2 L270.6,1.5 L272.70000000000005,4.2 Z" fill="#505050"/><path d="M279.2,10.4 L282,12.5 L279.2,14.6 Z" fill="#505050"/>
<path d="M276.5,-1 V10.6" stroke="#0d8c0d" stroke-width="1.3"/>
<rect x="274.3" y="1.8" width="4.4" height="6.8" fill="#46dd46" stroke="#0d8c0d" stroke-width="1"/>
<path d="M298.4,2.5 V15 M296,12.5 H309" stroke="#505050" stroke-width="1.25" fill="none"/><path d="M296.29999999999995,4.2 L298.4,1.5 L300.5,4.2 Z" fill="#505050"/><path d="M307.2,10.4 L310,12.5 L307.2,14.6 Z" fill="#505050"/>
<path d="M297.4,9.6 Q300.5,7.8 302,5.6 Q303.3,3.8 305,5.4 Q307,7.8 309.3,8.6" stroke="#2b9e2b" stroke-width="1.3" fill="none"/>
<path d="M337.6,8.8 L343.2,14.2" stroke="#8a6a10" stroke-width="4" stroke-linecap="round"/><path d="M337.8,9 L343,14" stroke="#e8c63a" stroke-width="2.4" stroke-linecap="round"/><circle cx="334" cy="5" r="5.6" fill="url(#gLens)" stroke="#3f7fd2" stroke-width="1.4"/><path d="M330.8,5 H337.2 M334,1.7999999999999998 V8.2" stroke="#3c7ab8" stroke-width="1.8"/>
<path d="M365.6,8.8 L371.2,14.2" stroke="#8a6a10" stroke-width="4" stroke-linecap="round"/><path d="M365.8,9 L371,14" stroke="#e8c63a" stroke-width="2.4" stroke-linecap="round"/><circle cx="362" cy="5" r="5.6" fill="url(#gLens)" stroke="#3f7fd2" stroke-width="1.4"/><path d="M358.8,5 H365.2" stroke="#3c7ab8" stroke-width="1.8"/>
<rect x="384.2" y="-0.5" width="7.6" height="7.2" fill="#3a9e2f"/>
<rect x="385.2" y="2.5" width="5.6" height="3.4" fill="#f2f6ff"/>
<rect x="386.0" y="3.3" width="4" height="1" fill="#3a9e2f" opacity="0.45"/>
<rect x="392.4" y="-0.5" width="7.6" height="7.2" fill="#2b5fd3"/>
<rect x="393.4" y="2.5" width="5.6" height="3.4" fill="#f2f6ff"/>
<rect x="394.2" y="3.3" width="4" height="1" fill="#2b5fd3" opacity="0.45"/>
<rect x="384.2" y="7.6" width="7.6" height="7.2" fill="#2b5fd3"/>
<rect x="385.2" y="10.6" width="5.6" height="3.4" fill="#f2f6ff"/>
<rect x="386.0" y="11.399999999999999" width="4" height="1" fill="#2b5fd3" opacity="0.45"/>
<rect x="392.4" y="7.6" width="7.6" height="7.2" fill="#3a9e2f"/>
<rect x="393.4" y="10.6" width="5.6" height="3.4" fill="#f2f6ff"/>
<rect x="394.2" y="11.399999999999999" width="4" height="1" fill="#3a9e2f" opacity="0.45"/>
<path d="M422.5,2.5 V15 M420,12.5 H433" stroke="#505050" stroke-width="1.25" fill="none"/><path d="M420.4,4.2 L422.5,1.5 L424.6,4.2 Z" fill="#505050"/><path d="M431.2,10.4 L434,12.5 L431.2,14.6 Z" fill="#505050"/>
<path d="M427.2,3.4 V9.6 L431.4,6.5 Z" fill="#63e663" stroke="#0e9c0e" stroke-width="1" stroke-linejoin="round"/>
<path d="M450.5,2.5 V15 M448,12.5 H461" stroke="#505050" stroke-width="1.25" fill="none"/><path d="M448.4,4.2 L450.5,1.5 L452.6,4.2 Z" fill="#505050"/><path d="M459.2,10.4 L462,12.5 L459.2,14.6 Z" fill="#505050"/>
<path d="M456.6,1 V11" stroke="#1b6db3" stroke-width="1.4"/>
<path d="M457.6,6.5 L461,4 V9 Z M460,6.5 H463" fill="#e25a00" stroke="#e25a00" stroke-width="1"/>
<path d="M481.4,-1 H489 L492.2,2.2 V12.3 H481.4 Z" fill="#ffffff" stroke="#8a8a8a" stroke-width="1"/>
<path d="M489,-1 V2.2 H492.2" fill="none" stroke="#8a8a8a" stroke-width="0.8"/>
<path d="M486.6,2.4 Q484.6,2 484.6,4.4 V9.4 M483.4,5.4 H486.4" stroke="#555" stroke-width="1" fill="none"/>
<path d="M489.09999999999997,5.3 H493.3 V9.0 H497.0 V13.2 H493.3 V16.9 H489.09999999999997 V13.2 H485.4 V9.0 H489.09999999999997 Z" fill="url(#gGreen)" stroke="#0c8a0c" stroke-width="0.8" stroke-linejoin="miter"/>
<path d="M502.5,6 L508.5,6 L505.5,9.3 Z" fill="#000"/>
<circle cx="527.2" cy="6.6" r="7.2" fill="#ffffff" stroke="#1c6fd8" stroke-width="2.6"/>
<circle cx="527.2" cy="6.6" r="8.4" fill="none" stroke="#0d4fb0" stroke-width="0.6"/>
<path d="M527.2,2.6 V6.8 H530.6" stroke="#202020" stroke-width="1.2" fill="none"/>
<path d="M527.2,9.5 V10.5" stroke="#6aa8f0" stroke-width="1.4"/>
<path d="M541.6,6 L547.6,6 L544.6,9.3 Z" fill="#000"/>
<rect x="558.4" y="-1" width="15" height="14.4" fill="#ffffff" stroke="#2f66cc" stroke-width="1"/>
<rect x="558.4" y="-1" width="15" height="3.4" fill="#3f7ad8"/>
<path d="M558.4,7.8 H573.4" stroke="#2f66cc" stroke-width="1"/>
<path d="M560.4,6 H562.4 L563.6,4.8 H565.4 L566.4,5.6 H568.4 L569.6,4.6 H571.6" stroke="#9a2a0a" stroke-width="1.2" fill="none"/>
<path d="M560.8,11.4 H562.4 L563.4,10.6 H565 L566,11.4 L568.4,9.4 L570,10.6 L571.4,11.6" stroke="#1f8f1f" stroke-width="1.2" fill="none"/>
<path d="M580.3,6 L586.3,6 L583.3,9.3 Z" fill="#000"/>
<path d="M610,-1 V11.2 L612.6,8.8 L615,14.2 L617.2,13.2 L614.8,8 L618.2,7.8 Z" fill="#454545"/>
<path d="M635,7.5 H641.4 M643.6,7.5 H650 M642.5,-1 V6.4 M642.5,8.6 V15" stroke="#454545" stroke-width="1.2"/>
<path d="M676.5,1 V14" stroke="#454545" stroke-width="1.3"/>
<path d="M699,7.5 H711.2" stroke="#454545" stroke-width="1.3"/>
<path d="M726.8,14 L739,1.8" stroke="#454545" stroke-width="1.2"/>
<path d="M752.6,9 L762.4,0.8 M754.2,13.6 L767.4,3.4 M758,14 L767.6,6.4" stroke="#454545" stroke-width="1"/>
<path d="M756.2,6 L756.2,12 M759.4,3.4 L759.4,9.6 M762.8,1 L762.8,7" stroke="#454545" stroke-width="0.9"/>
<text x="764" y="15.6" style="font-size:6.5px;font-weight:700;fill:#454545;letter-spacing:0">E</text>
<path d="M782,0.5 H795" stroke="#454545" stroke-width="1" stroke-dasharray="1 1" shape-rendering="crispEdges"/>
<path d="M782,3.5 H795" stroke="#454545" stroke-width="1" stroke-dasharray="1 1" shape-rendering="crispEdges"/>
<path d="M782,7.5 H795" stroke="#454545" stroke-width="1" stroke-dasharray="1 1" shape-rendering="crispEdges"/>
<path d="M782,11.4 H791" stroke="#454545" stroke-width="1" stroke-dasharray="1 1" shape-rendering="crispEdges"/>
<text x="792" y="15.6" style="font-size:6.5px;font-weight:700;fill:#454545;letter-spacing:0">F</text>
<text x="812.3" y="11.9" style="font-size:12.2px;fill:#454545;letter-spacing:0;stroke:#454545;stroke-width:0.35px">A</text>
<rect x="839.5" y="1.5" width="11" height="12" fill="none" stroke="#454545" stroke-width="1" stroke-dasharray="1 1" shape-rendering="crispEdges"/>
<text x="841.6" y="11.6" style="font-size:10.8px;fill:#454545;letter-spacing:0;stroke:#454545;stroke-width:0.4px">T</text>
<path d="M865.8,4.8 L869.4,1 L873,4.8 Z M873,9.4 L876.6,13.4 L880.2,9.4 Z" fill="#454545"/>
<path d="M868,8.2 L870.4,10.4 L874.6,5" stroke="#454545" stroke-width="1.3" fill="none"/>
<path d="M886.4,6 L892.4,6 L889.4,9.3 Z" fill="#000"/>
<text transform="translate(913.4 11.2) scale(0.9 1)" style="font-size:10px;fill:#3c3c3c;letter-spacing:0;stroke:#3c3c3c;stroke-width:0.12px">M1</text>
<text transform="translate(941.4 11.2) scale(0.9 1)" style="font-size:10px;fill:#3c3c3c;letter-spacing:0;stroke:#3c3c3c;stroke-width:0.12px">M5</text>
<text transform="translate(967.4 11.2) scale(0.9 1)" style="font-size:10px;fill:#3c3c3c;letter-spacing:0;stroke:#3c3c3c;stroke-width:0.12px">M15</text>
<text transform="translate(995.4 11.2) scale(0.9 1)" style="font-size:10px;fill:#3c3c3c;letter-spacing:0;stroke:#3c3c3c;stroke-width:0.12px">M30</text>
<text transform="translate(1026.4 11.2) scale(0.9 1)" style="font-size:10px;fill:#3c3c3c;letter-spacing:0;stroke:#3c3c3c;stroke-width:0.12px">H1</text>
<text transform="translate(1053.2 11.2) scale(0.9 1)" style="font-size:10px;fill:#3c3c3c;letter-spacing:0;stroke:#3c3c3c;stroke-width:0.12px">H4</text>
<text transform="translate(1082.3 11.2) scale(0.9 1)" style="font-size:10px;fill:#3c3c3c;letter-spacing:0;stroke:#3c3c3c;stroke-width:0.12px">D1</text>
<text transform="translate(1110 11.2) scale(0.9 1)" style="font-size:10px;fill:#3c3c3c;letter-spacing:0;stroke:#3c3c3c;stroke-width:0.12px">W1</text>
<text transform="translate(1136.3 11.2) scale(0.9 1)" style="font-size:10px;fill:#3c3c3c;letter-spacing:0;stroke:#3c3c3c;stroke-width:0.12px">MN</text>
<path d="M1626.8,7.4 L1622,11.8" stroke="#2357c6" stroke-width="2.6" stroke-linecap="round"/>
<circle cx="1629.6" cy="4.4" r="3.7" fill="#f6f9ff" stroke="#2357c6" stroke-width="1.4"/>
<ellipse cx="1662" cy="4.2" rx="6.6" ry="5" fill="#f8f8fa" stroke="#b4b4b8" stroke-width="0.8"/>
<path d="M1663.5,8.6 L1665.4,10.8 L1665.6,8.2 Z" fill="#b8b8bc"/>
<ellipse cx="1653.4" cy="8.2" rx="5.2" ry="3.9" fill="#f2f2f6" stroke="#a6a6aa" stroke-width="0.8"/>
<path d="M1650.4,11.2 L1650.2,13.6 L1652.6,11.8 Z" fill="#a6a6aa"/>
</g>
</svg>
</body></html>
